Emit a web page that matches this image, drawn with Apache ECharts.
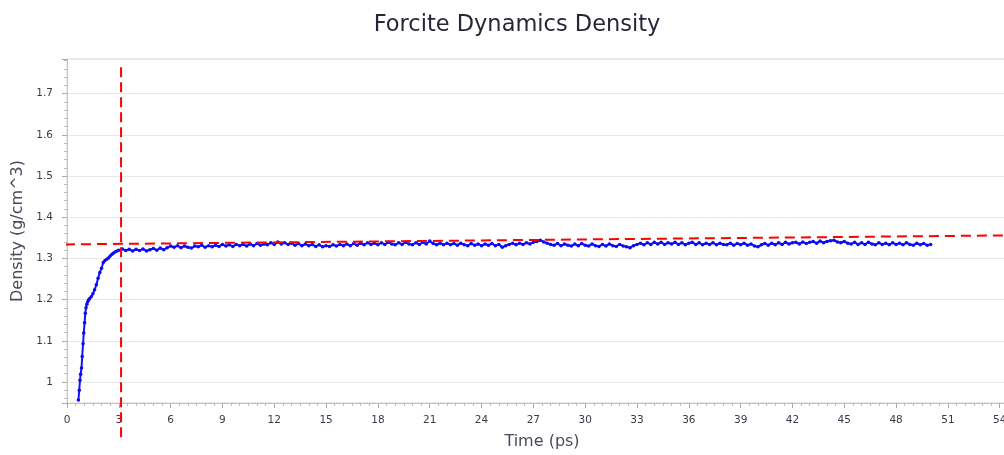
<!DOCTYPE html>
<html>
<head>
<meta charset="utf-8">
<script src="https://cdn.jsdelivr.net/npm/echarts@6/dist/echarts.min.js"></script>
<style>
html,body{margin:0;padding:0;background:#fff;}
#chart{width:1004px;height:455px;}
</style>
</head>
<body>
<div id="chart"></div>
<script>
// ---- data ----
const chartTitle = 'Forcite Dynamics Density';
const xAxisName = 'Time (ps)';
const yAxisName = 'Density (g/cm^3)';

// early (equilibration) part: explicit time / density
const earlyTimes = [0.66,0.71,0.75,0.79,0.84,0.88,0.93,0.97,1.02,1.06,1.10,1.15,1.20,1.25,1.30,
  1.40,1.50,1.60,1.70,1.80,1.90,2.00,2.10,2.20,2.30,2.40,2.50,2.60,2.70,2.80,2.90,3.00];
const earlyDensity = [0.956,0.980,1.004,1.019,1.034,1.062,1.093,1.119,1.144,1.167,1.180,1.189,1.195,1.199,1.202,
  1.207,1.214,1.224,1.236,1.252,1.266,1.276,1.290,1.295,1.298,1.301,1.306,1.310,1.313,1.316,1.318,1.320];

// plateau part: sampled every 0.2 ps from 3.2 ps to 50.0 ps
const plateauStart = 3.2;
const plateauStep = 0.2;
const plateauDensity = [
  1.323,1.319,1.322,1.318,1.322,1.319,1.323,1.318,1.321,1.324,1.320,1.325,1.321,
  1.326,1.330,1.327,1.331,1.326,1.330,1.327,1.325,1.330,1.328,1.332,1.327,
  1.331,1.328,1.332,1.329,1.334,1.330,1.333,1.329,1.334,1.331,
  1.334,1.330,1.335,1.331,1.336,1.332,1.335,1.333,1.338,1.334,
  1.340,1.335,1.338,1.334,1.337,1.332,1.336,1.331,1.335,1.331,
  1.334,1.329,1.333,1.328,1.331,1.329,1.333,1.330,1.334,1.331,
  1.335,1.331,1.336,1.332,1.337,1.333,1.338,1.334,1.337,1.333,
  1.338,1.334,1.339,1.335,1.333,1.338,1.334,1.339,1.335,1.333,
  1.338,1.334,1.339,1.335,1.342,1.336,1.333,1.337,1.333,1.337,
  1.333,1.336,1.332,1.337,1.333,1.331,1.336,1.332,1.335,1.331,
  1.335,1.332,1.336,1.331,1.334,1.327,1.331,1.334,1.337,1.333,
  1.337,1.334,1.338,1.335,1.339,1.341,1.344,1.340,1.337,1.334,
  1.332,1.336,1.331,1.335,1.332,1.330,1.335,1.331,1.336,1.332,
  1.330,1.335,1.331,1.329,1.334,1.330,1.335,1.331,1.329,1.334,
  1.330,1.328,1.326,1.331,1.334,1.337,1.333,1.338,1.334,1.339,
  1.335,1.339,1.334,1.338,1.335,1.339,1.334,1.338,1.333,1.337,
  1.339,1.334,1.338,1.333,1.337,1.334,1.338,1.333,1.337,1.334,
  1.333,1.337,1.332,1.336,1.333,1.337,1.332,1.335,1.330,1.328,
  1.333,1.336,1.332,1.337,1.333,1.338,1.334,1.339,1.335,1.338,
  1.339,1.335,1.340,1.336,1.339,1.341,1.337,1.342,1.338,1.341,
  1.343,1.344,1.340,1.338,1.341,1.337,1.335,1.339,1.334,1.338,
  1.334,1.339,1.335,1.333,1.338,1.334,1.337,1.333,1.338,1.334,
  1.337,1.333,1.338,1.334,1.332,1.337,1.333,1.336,1.332,1.334
];

// red dashed guide lines (time, density endpoints)
const guideVertical = [[3.13, 0.866], [3.13, 1.770]];
const guideHorizontal = [[-0.12, 1.334], [55, 1.356]];

// axis settings
const xMin = 0, xMax = 55, xStep = 3;
const yMin = 0.949, yMax = 1.784;

// ---- build series data ----
const densityData = [];
earlyTimes.forEach((t, i) => densityData.push([t, earlyDensity[i]]));
plateauDensity.forEach((v, i) => densityData.push([+(plateauStart + i * plateauStep).toFixed(2), v]));

const chart = echarts.init(document.getElementById('chart'), null, {renderer: 'canvas'});
const labelFont = 'DejaVu Sans';
chart.setOption({
  animation: false,
  backgroundColor: '#ffffff',
  title: {
    text: chartTitle,
    left: 512,
    textAlign: 'center',
    top: 9,
    textStyle: {fontFamily: labelFont, fontSize: 22.5, fontWeight: 'normal', color: '#262638'}
  },
  grid: {
    left: 67, width: 950, top: 59, bottom: 52,
    outerBoundsMode: 'none',
    containLabel: false,
    show: true, borderColor: '#d4d4d4', borderWidth: 1, backgroundColor: 'transparent'
  },
  xAxis: {
    type: 'value',
    min: xMin, max: xMax, interval: xStep,
    name: xAxisName,
    nameLocation: 'middle',
    nameGap: 31,
    nameTextStyle: {fontFamily: labelFont, fontSize: 16, color: '#4a4a5a', padding: [0, 0, 0, 0]},
    axisLine: {show: true, lineStyle: {color: '#c4c4c4', width: 1}},
    axisTick: {show: true, length: 5, lineStyle: {color: '#aaaaaa'}},
    minorTick: {show: true, splitNumber: 6, length: 3, lineStyle: {color: '#bbbbbb'}},
    axisLabel: {
      margin: 12, fontFamily: labelFont, fontSize: 10.5, color: '#3a3a4a',
      formatter: v => (Math.abs(v / xStep - Math.round(v / xStep)) < 1e-6) ? String(Math.round(v)) : ''
    },
    splitLine: {show: false}
  },
  yAxis: {
    type: 'value',
    min: yMin, max: yMax, splitNumber: 8,
    name: yAxisName,
    nameLocation: 'middle',
    nameGap: 38,
    nameTextStyle: {fontFamily: labelFont, fontSize: 16, color: '#4a4a5a'},
    axisLine: {show: true, lineStyle: {color: '#c4c4c4', width: 1}},
    axisTick: {show: true, length: 5, lineStyle: {color: '#aaaaaa'}},
    minorTick: {show: true, splitNumber: 5, length: 3, lineStyle: {color: '#bbbbbb'}},
    axisLabel: {
      margin: 14, fontFamily: labelFont, fontSize: 10.5, color: '#3a3a4a',
      formatter: v => (Math.abs(v * 10 - Math.round(v * 10)) < 1e-6) ? String(+v.toFixed(1)) : ''
    },
    splitLine: {show: true, lineStyle: {color: '#e8e8e8', width: 1}}
  },
  series: [
    {
      name: 'Density',
      type: 'line',
      data: densityData,
      symbol: 'circle',
      symbolSize: 3.5,
      showSymbol: true,
      itemStyle: {color: '#0a0af5'},
      lineStyle: {color: '#1414f0', width: 2},
      z: 3
    },
    {
      name: 'guideV',
      type: 'line',
      data: guideVertical,
      symbol: 'none',
      clip: false,
      lineStyle: {color: '#ff0000', width: 2, type: [10, 5]},
      z: 4
    },
    {
      name: 'guideH',
      type: 'line',
      data: guideHorizontal,
      symbol: 'none',
      clip: false,
      lineStyle: {color: '#ff0000', width: 2, type: [10, 6]},
      z: 4
    }
  ]
});
</script>
</body>
</html>
